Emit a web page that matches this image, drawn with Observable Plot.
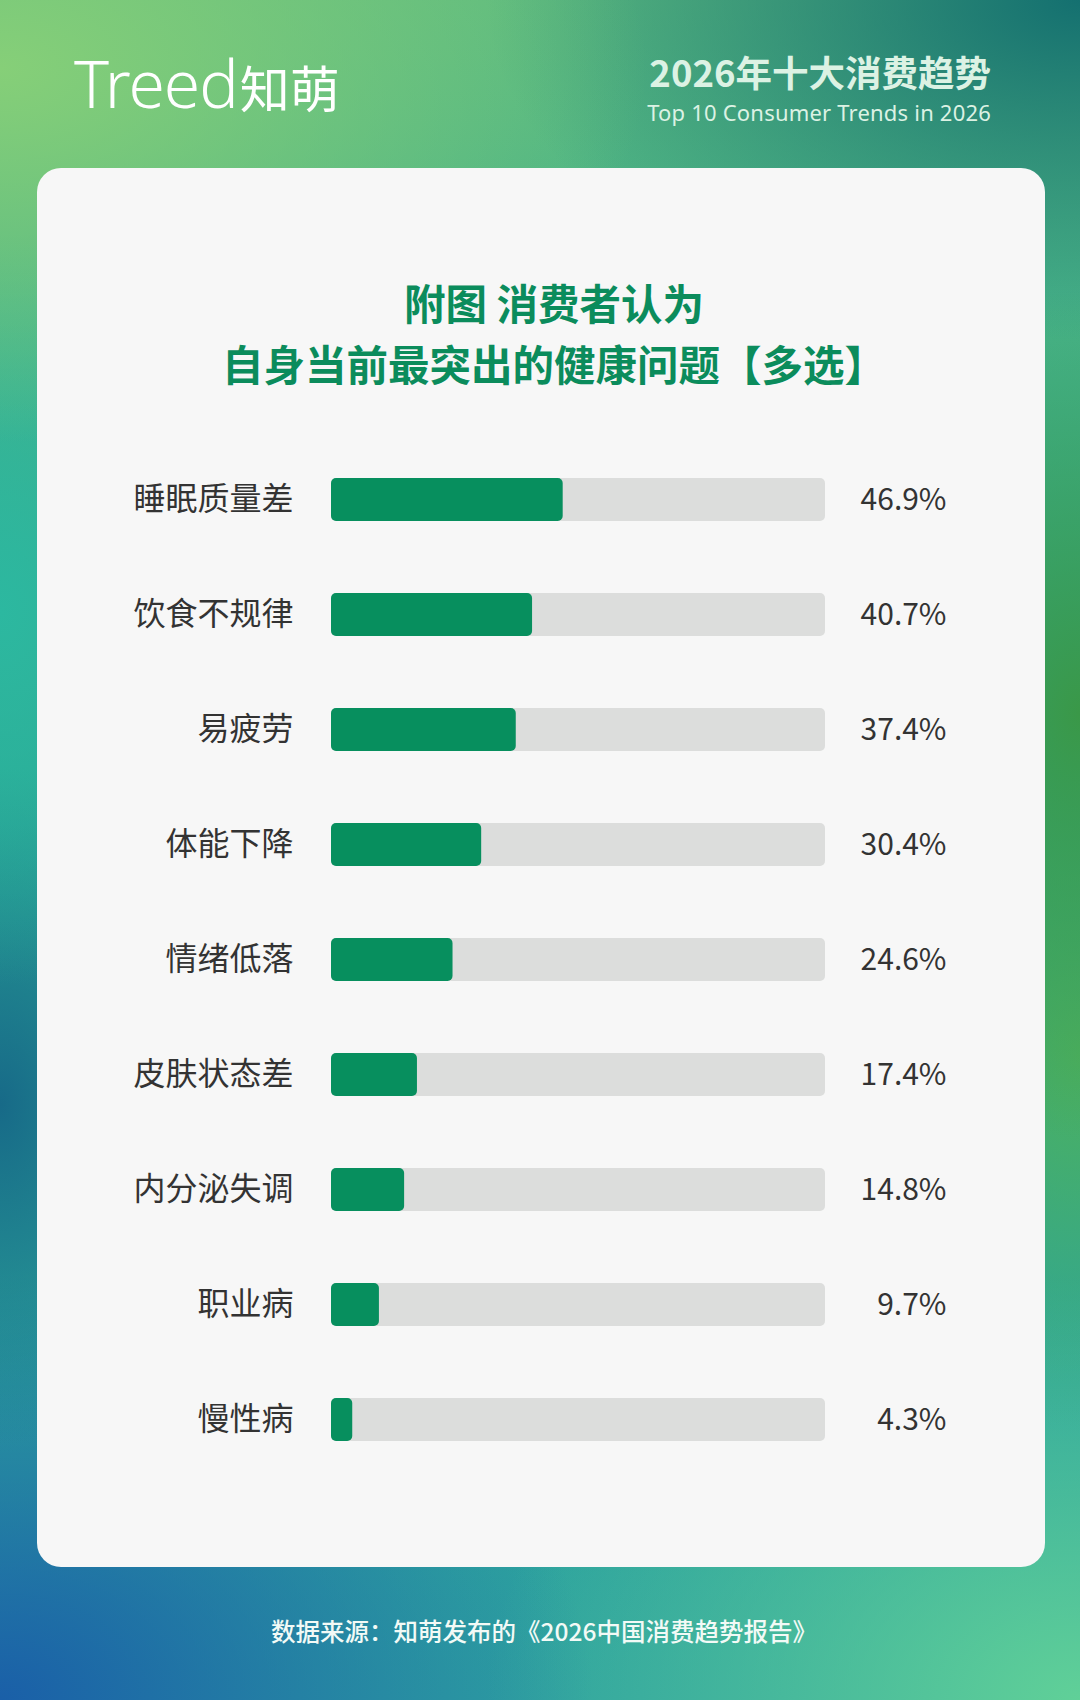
<!DOCTYPE html>
<html>
<head>
<meta charset="utf-8">
<script src="https://cdn.jsdelivr.net/npm/d3@7"></script>
<script src="https://cdn.jsdelivr.net/npm/@observablehq/plot@0.6"></script>
<style>
  html, body { margin: 0; padding: 0; }
  body { width: 1080px; height: 1700px; overflow: hidden; }
  #page {
    position: relative; width: 1080px; height: 1700px;
    font-family: "Noto Sans CJK SC", "Noto Sans", sans-serif;
    background:
      radial-gradient(ellipse 60% 22% at 0% 4%, #86cf78 0%, rgba(134,207,120,0) 100%),
      radial-gradient(ellipse 55% 20% at 100% 0%, #147070 0%, rgba(20,112,112,0) 100%),
      radial-gradient(ellipse 25% 25% at 100% 42%, #3a9848 0%, rgba(58,152,72,0) 100%),
      radial-gradient(ellipse 25% 22% at 100% 62%, #4cb060 0%, rgba(76,176,96,0) 100%),
      radial-gradient(ellipse 25% 22% at 0% 36%, #2cb8a0 0%, rgba(44,184,160,0) 100%),
      radial-gradient(ellipse 20% 20% at 0% 65%, #176a88 0%, rgba(23,106,136,0) 100%),
      radial-gradient(ellipse 55% 25% at 0% 100%, #1a5fa8 0%, rgba(26,95,168,0) 100%),
      radial-gradient(ellipse 55% 25% at 100% 100%, #60d098 0%, rgba(96,208,152,0) 100%),
      linear-gradient(180deg, #5cba80 0%, #2aa894 45%, #2ea2a0 100%);
  }
  .logo { position: absolute; left: 74px; top: 52px; height: 60px; color: #fff; white-space: nowrap; }
  .logo .en { display: inline-block; font-family: "Noto Sans", sans-serif; font-size: 66px; line-height: 60px; font-weight: 300; letter-spacing: -1px; vertical-align: top; }
  .logo .cn { display: inline-block; font-family: "Noto Sans CJK SC", sans-serif; font-size: 50px; line-height: 60px; font-weight: 400; vertical-align: top; margin-left: 2px; transform: translateY(4px); }
  .hd1 { position: absolute; right: 89px; top: 52px; line-height: 40px; color: #dcf2e4; font-size: 36.5px; font-weight: 700; white-space: nowrap; }
  .hd2 { position: absolute; right: 89px; top: 100px; line-height: 24px; color: #dcf2e4; font-size: 22px; letter-spacing: 0.2px; font-weight: 400; white-space: nowrap; font-family: "Noto Sans", sans-serif; }
  .card { position: absolute; left: 37px; top: 168px; width: 1008px; height: 1399px; background: #f7f7f7; border-radius: 24px; }
  .title { position: absolute; left: 14px; width: 1080px; top: 272px; text-align: center; color: #0b8c5c; font-size: 41.5px; font-weight: 700; line-height: 61px; }
  #chart { position: absolute; left: 0; top: 404px; }
  .foot { position: absolute; left: 4px; width: 1080px; top: 1613px; text-align: center; color: #f2faf6; font-size: 24.5px; font-weight: 500; }
</style>
</head>
<body>
<div id="page">
  <div class="logo"><span class="en">Treed</span><span class="cn">知萌</span></div>
  <div class="hd1">2026年十大消费趋势</div>
  <div class="hd2">Top 10 Consumer Trends in 2026</div>
  <div class="card"></div>
  <div class="title">附图 消费者认为<br>自身当前最突出的健康问题【多选】</div>
  <div id="chart"></div>
  <div class="foot">数据来源：知萌发布的《2026中国消费趋势报告》</div>
</div>
<script>
const categories = ["睡眠质量差", "饮食不规律", "易疲劳", "体能下降", "情绪低落", "皮肤状态差", "内分泌失调", "职业病", "慢性病"];
const values = [46.9, 40.7, 37.4, 30.4, 24.6, 17.4, 14.8, 9.7, 4.3];
const trackMax = 100;

const data = categories.map((name, i) => ({name, value: values[i]}));

const chart = Plot.plot({
  width: 1080,
  height: 1110,
  marginLeft: 331,
  marginRight: 255,
  marginTop: 0,
  marginBottom: 0,
  style: {background: "transparent", fontFamily: "'Noto Sans CJK SC', 'Noto Sans', sans-serif", overflow: "visible"},
  x: {domain: [0, trackMax], axis: null},
  y: {domain: categories, padding: 0.627, axis: null},
  marks: [
    Plot.barX(data, {y: "name", x1: d => 0, x2: d => trackMax, fill: "#dcdddc", rx: 5}),
    Plot.barX(data, {y: "name", x: "value", fill: "#078f5e", rx: 5}),
    Plot.text(data, {y: "name", x: d => 0, text: "name", textAnchor: "end", dx: -38, fontSize: 32, fill: "#333333"}),
    Plot.text(data, {y: "name", x: d => trackMax, text: d => d.value.toFixed(1) + "%", textAnchor: "end", dx: 121, fontSize: 30, fill: "#333333"})
  ]
});
document.getElementById("chart").appendChild(chart);
</script>
</body>
</html>
